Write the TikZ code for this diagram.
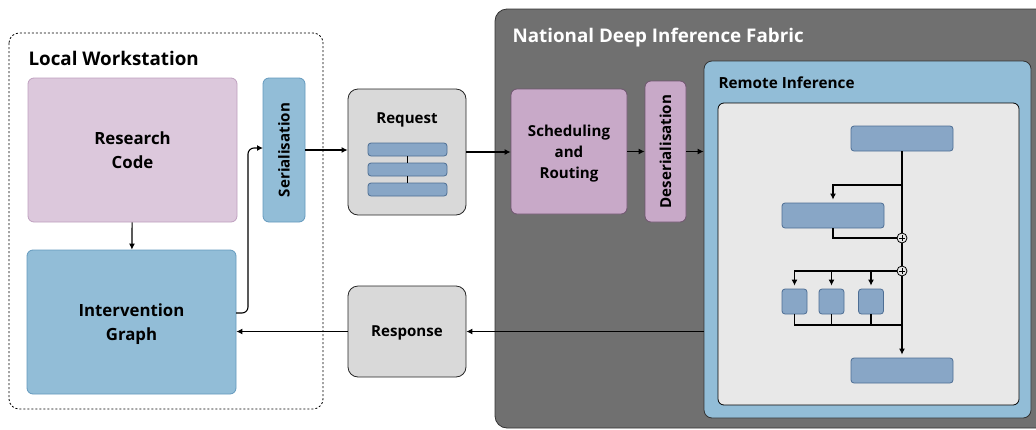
\documentclass[tikz,border=0pt]{standalone}
\usepackage{fontspec}
\usepackage{graphicx}
\setmainfont{Open Sans}
\usetikzlibrary{arrows.meta}

\definecolor{codepink}{HTML}{DCC8DC}
\definecolor{codepinkline}{HTML}{BFA0BF}
\definecolor{graphblue}{HTML}{92BDD7}
\definecolor{graphblueline}{HTML}{6399BD}
\definecolor{msggrey}{HTML}{D9D9D9}
\definecolor{fabricgrey}{HTML}{707070}
\definecolor{routepink}{HTML}{C8A9C8}
\definecolor{routepinkline}{HTML}{6F566F}
\definecolor{layerblue}{HTML}{88A6C6}
\definecolor{layerblueline}{HTML}{4E6E94}
\definecolor{panelgrey}{HTML}{E8E8E8}

\begin{document}
\begin{tikzpicture}[x=1pt, y=-1pt, >={Latex[length=6pt,width=6pt]}]
\tikzstyle{box}=[draw, rounded corners=6pt, line width=0.8pt, font=\bfseries, align=center, inner sep=0pt]
\tikzstyle{bigtext}=[font=\bfseries\fontsize{16.8}{24}\selectfont, text depth=0pt]
\tikzstyle{midtext}=[font=\bfseries\fontsize{15.1}{21}\selectfont, text depth=0pt]
\tikzstyle{sidetext}=[font=\bfseries\fontsize{15.1}{21}\selectfont]
\tikzstyle{titletext}=[font=\bfseries\fontsize{18.8}{22}\selectfont]
\tikzstyle{layer}=[draw=layerblueline, fill=layerblue, rounded corners=3pt, line width=0.8pt, minimum height=25pt, inner sep=0pt]
\tikzstyle{junction}=[draw, circle, fill=panelgrey, line width=0.8pt, minimum size=10pt, inner sep=0pt,
  path picture={\draw[line width=1pt] (path picture bounding box.center) ++(-3pt,0) -- ++(6pt,0)
  (path picture bounding box.center) ++(0,-3pt) -- ++(0,6pt);}]
\tikzstyle{link}=[line width=1.1pt]
\useasboundingbox (0,0) rectangle (1036,429);
\clip (0,0) rectangle (1036,429);

% local side
\draw[dashed, dash pattern=on 2pt off 2pt, line width=0.8pt, rounded corners=10pt] (9,33) rectangle (323,409);
\node[anchor=west, titletext] (localtitle) at (25,58) {Local Workstation};

\node[box, bigtext, draw=codepinkline, fill=codepink, minimum width=209pt, minimum height=144pt] (research) at (132.5,150) {Research\\Code};
\node[box, bigtext, draw=graphblueline, fill=graphblue, minimum width=209pt, minimum height=144pt] (graph) at (131.5,322) {Intervention\\Graph};
\node[box, sidetext, draw=graphblueline, fill=graphblue, minimum width=42pt, minimum height=144pt] (serial) at (284,150) {\rotatebox{90}{Serialisation}};

% messages
\node[box, draw=black!85, fill=msggrey, rounded corners=10pt, minimum width=118pt, minimum height=126pt] (request) at (407,152) {};
\node[midtext] (requestlabel) at (407,118) {Request};
\node[layer, minimum width=79pt, minimum height=13pt] (rq1) at (407.5,149.5) {};
\node[layer, minimum width=79pt, minimum height=13pt] (rq2) at (407.5,169.5) {};
\node[layer, minimum width=79pt, minimum height=13pt] (rq3) at (407.5,189.5) {};
\node[box, midtext, draw=black!85, fill=msggrey, rounded corners=10pt, minimum width=118pt, minimum height=91pt] (response) at (407,331.5) {Response};

% fabric
\draw[draw=black!80, fill=fabricgrey, line width=0.8pt, rounded corners=12pt] (495,9) rectangle (1050,428);
\node[anchor=west, text=white, titletext] (fabrictitle) at (509,38) {National Deep Inference Fabric};
\node[box, midtext, draw=routepinkline, fill=routepink, minimum width=116pt, minimum height=125pt] (sched) at (569,151.5) {Scheduling\\and\\Routing};
\node[box, sidetext, draw=routepinkline, fill=routepink, minimum width=41pt, minimum height=141pt] (deser) at (665.5,151.5) {\rotatebox{90}{Deserialisation}};

\node[box, draw=black!80, fill=graphblue, rounded corners=8pt, minimum width=327pt, minimum height=357pt] (remote) at (867.5,239.5) {};
\node[anchor=west, font=\bfseries\fontsize{15.3}{18}\selectfont] (remotetitle) at (715,83) {Remote Inference};
\node[box, draw=black, fill=panelgrey, rounded corners=6pt, minimum width=301pt, minimum height=302pt] (inner) at (868.5,254) {};

% model inside
\node[layer, minimum width=102pt] (top) at (902,138.5) {};
\node[layer, minimum width=102pt] (mid) at (833,215.5) {};
\node[layer, minimum width=102pt] (bot) at (902,370.5) {};
\node[layer, minimum width=25pt] (s1) at (794.5,301.5) {};
\node[layer, minimum width=25pt] (s2) at (831.5,301.5) {};
\node[layer, minimum width=25pt] (s3) at (871,301.5) {};
\coordinate (split) at (902,185);
\coordinate (merge) at (902,325);

\draw[link, ->, shorten >=3pt] (top.south) -- (bot.north);
\draw[link, ->, shorten >=3pt] (split) -| (mid.north);
\node[junction] (j1) at (902,238) {};
\node[junction] (j2) at (902,271) {};
\draw[link] (mid.south) |- (j1.west);
\draw[link, ->, shorten >=3pt] (j2.west) -| (s1.north);
\foreach \s in {s2,s3}
  \draw[link, ->, shorten >=3pt] (\s.north |- j2) -- (\s.north);
\draw[link] (s1.south) |- (merge);
\foreach \s in {s2,s3}
  \draw[link] (\s.south) -- (\s.south |- merge);

% flow
\draw[link, ->] (research) -- (graph);
\coordinate (graphout) at (236,313);
\coordinate (serialin) at (263,148);
\draw[link, ->, rounded corners=6pt] (graphout) -- (248,313) -- (248,148) -- (serialin);
\draw[link, ->] (serial.east) -- (serial.east -| request.west);
\draw[link, ->] (request.east) -- (request.east -| sched.west);
\draw[link, ->] (sched.east) -- (sched.east -| deser.west);
\draw[link, ->] (deser.east) -- (deser.east -| remote.west);
\draw[link, ->] (remote.west |- response) -- (response.east);
\draw[link, ->] (response.west) -- (response.west -| graph.east);
\draw[link] (rq1.south) -- (rq2.north);
\draw[link] (rq2.south) -- (rq3.north);
\end{tikzpicture}
\end{document}
